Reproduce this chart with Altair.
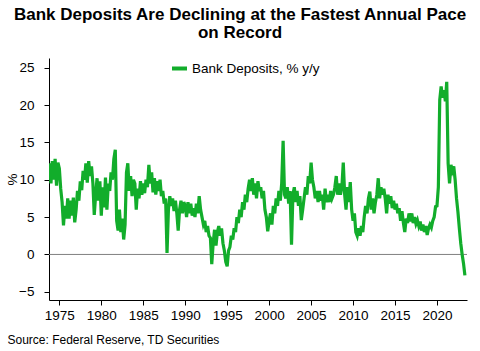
import altair as alt
import pandas as pd

# Bank deposits, % y/y, sampled every two months starting Nov 1973
vals_1970s = [
    12.2,
    9.5, 12.5, 10.0, 12.8, 9.2, 12.3,
    11.5, 8.8, 7.0, 3.9, 6.5, 4.8,
    7.5, 4.8, 7.2, 5.2, 7.6, 4.3,
    6.0, 8.5, 7.2, 9.8, 8.6, 11.2,
    10.0, 12.2, 9.6, 12.5, 10.5, 11.8,
    9.5, 5.3, 8.0, 10.2, 7.2, 9.8,
]
vals_1980s = [
    5.2, 9.0, 6.3, 10.3, 6.0, 9.5,
    8.5, 11.0, 10.0, 12.8, 14.0, 4.5,
    3.2, 6.0, 3.0, 4.8, 2.0, 4.0,
    11.0, 12.2, 8.5, 10.5, 7.8, 10.0,
    9.5, 6.0, 8.8, 7.5, 9.8, 8.0,
    9.5, 8.2, 10.0, 9.0, 12.0, 9.5,
    11.0, 8.3, 10.2, 8.0, 9.8, 8.5,
    10.0, 7.8, 8.5, 6.8, 7.5, 0.2,
    6.0, 7.8, 6.5, 7.5, 5.8, 7.2,
    5.5, 3.2, 6.0, 7.2, 5.5, 7.0,
]
vals_1990s = [
    6.5, 5.0, 7.0, 5.5, 6.8, 5.2,
    6.2, 5.0, 6.8, 5.5, 7.8, 6.0,
    5.0, 4.0, 4.5, 3.0, 3.8, 2.5,
    2.2, -1.3, 1.5, 3.3, 1.2, 3.0,
    3.8, 2.5, 3.5, 1.5, 0.5, -1.0,
    -1.6, 0.5, 1.0, 2.5, 2.0, 3.5,
    3.0, 5.0, 4.2, 6.0, 5.0, 7.0,
    6.0, 8.0, 7.0, 8.8, 10.0, 8.5,
    10.2, 8.0, 9.5, 7.5, 9.8, 8.5,
    9.0, 7.5, 8.5, 6.0, 5.0, 3.1,
]
vals_2000s = [
    4.5, 5.5, 4.0, 6.5, 5.5, 7.5,
    6.5, 8.5, 7.2, 9.5, 15.2, 8.0,
    7.5, 9.0, 6.8, 8.5, 1.3, 8.0,
    9.0, 7.0, 8.5, 6.5, 7.8, 4.6,
    6.0, 7.5, 9.0, 8.0, 10.5, 9.5,
    12.3, 10.0, 9.0, 7.5, 8.5, 7.0,
    8.5, 7.2, 8.0, 6.0, 8.8, 7.0,
    8.0, 7.0, 8.5, 7.5, 8.0, 9.0,
    10.5, 8.0, 9.5, 8.0, 9.0, 12.3,
    8.0, 6.0, 9.0, 7.0, 9.7, 6.0,
]
vals_2010s = [
    4.5, 5.5, 3.0, 2.5, 3.5, 2.5,
    3.8, 3.0, 5.0, 6.5, 5.5, 7.5,
    8.4, 6.0, 7.5, 5.5, 7.0, 8.0,
    10.2, 7.5, 9.0, 8.0, 8.8, 7.5,
    5.5, 8.0, 6.8, 7.8, 6.2, 7.2,
    6.0, 6.8, 5.5, 6.2, 4.5, 5.8,
    4.2, 3.0, 4.8, 4.2, 5.5, 4.4,
    5.5, 4.2, 5.0, 4.1, 4.6, 3.8,
    4.4, 3.2, 4.0, 3.0, 3.8, 2.6,
    3.5, 4.0, 3.6, 4.5, 5.0, 6.4,
]
vals_2020s = [
    6.5, 9.0, 20.7, 22.5, 21.0, 22.0,
    20.5, 23.1, 12.2, 9.5, 12.0, 11.2,
    11.8, 10.0, 7.5, 5.7, 3.5, 1.5,
    0.0, -1.2, -2.8,
]

y_ticks = [-5, 0, 5, 10, 15, 20, 25]
x_tick_years = [1975, 1980, 1985, 1990, 1995, 2000, 2005, 2010, 2015, 2020]
series_name = "Bank Deposits, % y/y"

values = vals_1970s + vals_1980s + vals_1990s + vals_2000s + vals_2010s + vals_2020s
dates = pd.date_range("1973-11-01", periods=len(values), freq="2MS")
df = pd.DataFrame({"date": dates, "value": values, "series": series_name})

GREEN = "#12AD2B"
FONT = "Liberation Sans"

x_enc = alt.X(
    "date:T",
    scale=alt.Scale(domain=[alt.DateTime(year=1973, month=10, date=8),
                            alt.DateTime(year=2023, month=7, date=31)]),
    axis=alt.Axis(
        values=[alt.DateTime(year=y, month=1, date=1) for y in x_tick_years],
        format="%Y",
        title="Source: Federal Reserve, TD Securities",
        titleX=-42, titleY=39, titleAlign="left", titleBaseline="middle",
        titleFontSize=12, titleFontWeight="normal", titleFont=FONT,
        labelPadding=3,
    ),
)
y_enc = alt.Y(
    "value:Q",
    scale=alt.Scale(domain=[-6.1, 26.3], nice=False, zero=False),
    axis=alt.Axis(
        values=y_ticks,
        title="%",
        titleX=-36.5, titleY=121, titleAlign="center", titleBaseline="middle",
        titleFontSize=13.5, titleFontWeight="normal", titleFont=FONT,
        labelPadding=10,
    ),
)

line = alt.Chart(df).mark_line(strokeWidth=3.2, clip=True).encode(
    x=x_enc,
    y=y_enc,
    color=alt.Color(
        "series:N",
        scale=alt.Scale(range=[GREEN]),
        legend=alt.Legend(
            title=None, orient="none", legendX=121, legendY=1,
            symbolType="stroke", symbolStrokeWidth=4, symbolSize=225,
            labelFont=FONT, labelFontSize=13.5, labelColor="black",
            labelOffset=3, padding=0,
        ),
    ),
)

zero = alt.Chart(pd.DataFrame({"y": [0]})).mark_rule(color="#808080", strokeWidth=1).encode(
    y=alt.Y("y:Q")
)

chart = alt.layer(zero, line).properties(
    width=418,
    height=242,
    autosize=alt.AutoSizeParams(type="none"),
    padding={"left": 49, "top": 58, "right": 13, "bottom": 51},
    title=alt.TitleParams(
        text=["Bank Deposits Are Declining at the Fastest Annual Pace", "on Record"],
        font=FONT, fontSize=17, fontWeight="bold", color="black",
        anchor="middle", dx=-18, offset=16, lineHeight=18,
    ),
).configure_view(stroke=None).configure_axis(
    grid=False,
    labelFont=FONT, labelFontSize=13.5, labelColor="black",
    domainColor="black", tickColor="black", tickSize=5,
    titleColor="black",
)

chart.save("out.html", embed_options={"renderer": "svg", "actions": False})
